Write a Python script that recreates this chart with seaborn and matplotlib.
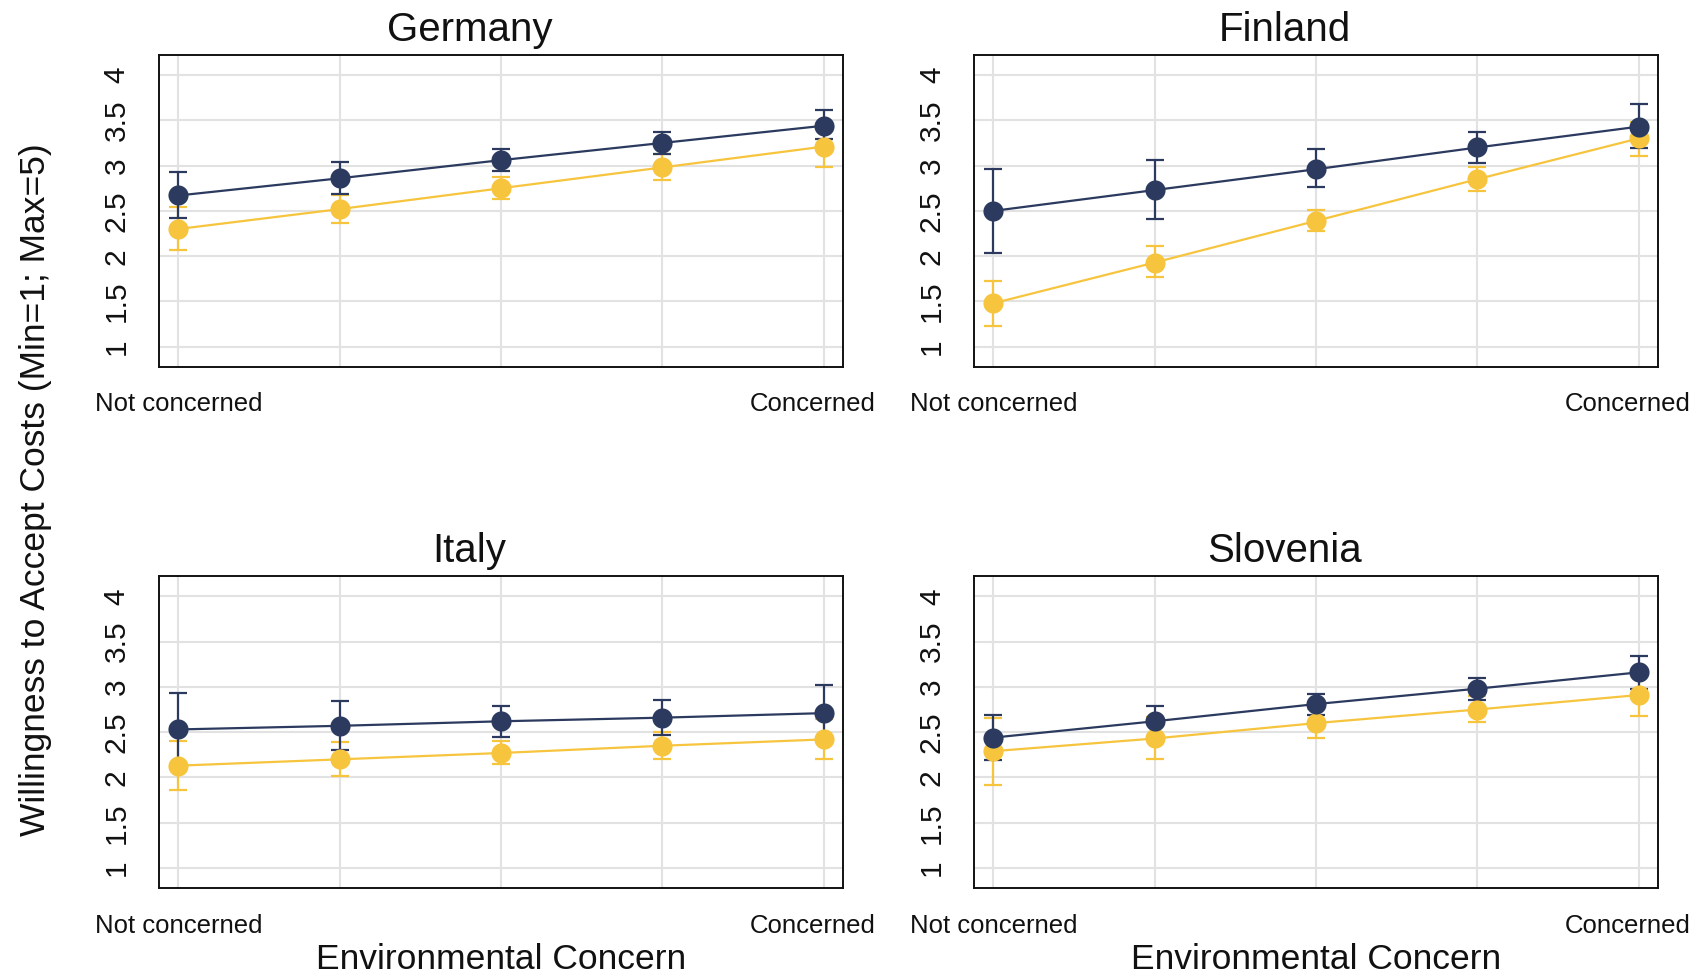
import numpy as np
import pandas as pd
import matplotlib
matplotlib.use("Agg")
import matplotlib.pyplot as plt
import seaborn as sns

# Environmental-concern levels (1 = not concerned ... 5 = concerned)
levels = [1, 2, 3, 4, 5]
level_labels = ["Not concerned", "", "", "", "Concerned"]
countries = ["Germany", "Finland", "Italy", "Slovenia"]

# Predicted willingness to accept costs, dark series
navy_mean = {
    "Germany":  [2.67, 2.86, 3.06, 3.25, 3.44],
    "Finland":  [2.50, 2.73, 2.96, 3.20, 3.43],
    "Italy":    [2.53, 2.57, 2.62, 2.66, 2.71],
    "Slovenia": [2.44, 2.62, 2.81, 2.98, 3.16],
}
navy_lo = {
    "Germany":  [2.42, 2.69, 2.94, 3.13, 3.29],
    "Finland":  [2.04, 2.41, 2.76, 3.03, 3.19],
    "Italy":    [2.13, 2.30, 2.45, 2.47, 2.40],
    "Slovenia": [2.19, 2.45, 2.69, 2.86, 2.98],
}
navy_hi = {
    "Germany":  [2.93, 3.04, 3.18, 3.37, 3.61],
    "Finland":  [2.96, 3.06, 3.18, 3.37, 3.68],
    "Italy":    [2.93, 2.84, 2.79, 2.86, 3.02],
    "Slovenia": [2.69, 2.79, 2.92, 3.10, 3.34],
}

# Predicted willingness to accept costs, light series
gold_mean = {
    "Germany":  [2.30, 2.52, 2.75, 2.98, 3.21],
    "Finland":  [1.48, 1.93, 2.39, 2.85, 3.30],
    "Italy":    [2.13, 2.20, 2.27, 2.35, 2.42],
    "Slovenia": [2.29, 2.43, 2.60, 2.75, 2.91],
}
gold_lo = {
    "Germany":  [2.07, 2.37, 2.63, 2.84, 2.99],
    "Finland":  [1.23, 1.77, 2.28, 2.72, 3.11],
    "Italy":    [1.86, 2.02, 2.15, 2.20, 2.20],
    "Slovenia": [1.92, 2.20, 2.44, 2.61, 2.68],
}
gold_hi = {
    "Germany":  [2.54, 2.67, 2.87, 3.13, 3.42],
    "Finland":  [1.73, 2.11, 2.51, 2.98, 3.48],
    "Italy":    [2.40, 2.39, 2.40, 2.50, 2.65],
    "Slovenia": [2.66, 2.67, 2.76, 2.90, 3.14],
}

y_ticks = [1, 1.5, 2, 2.5, 3, 3.5, 4]
y_ticklabels = ["1", "1.5", "2", "2.5", "3", "3.5", "4"]

NAVY = "#2b3a5e"
GOLD = "#f7c43e"

rows = []
for c in countries:
    for grp, m, lo, hi in (("gold", gold_mean, gold_lo, gold_hi),
                           ("navy", navy_mean, navy_lo, navy_hi)):
        for i, lv in enumerate(levels):
            rows.append(dict(country=c, group=grp, level=lv,
                             mean=m[c][i], lo=lo[c][i], hi=hi[c][i]))
df = pd.DataFrame(rows)

sns.set_style("white")
plt.rcParams["font.family"] = ["Liberation Sans", "DejaVu Sans"]

fig = plt.figure(figsize=(17.04, 9.80), dpi=100)

col_left = [0.0931, 0.5714]
col_width = 0.4018
row_bottom = [0.6258, 0.0939]
row_height = 0.3180

palette = {"gold": GOLD, "navy": NAVY}
tick_len, tick_pad, tick_fs = 9, 9.5, 18.5

for k, c in enumerate(countries):
    r, col = divmod(k, 2)
    ax = fig.add_axes([col_left[col], row_bottom[r], col_width, row_height])
    sub = df[df.country == c]

    ax.grid(True, color="#e2e2e2", linewidth=1.5, zorder=0)
    ax.set_axisbelow(True)

    for grp in ("gold", "navy"):
        g = sub[sub.group == grp]
        ax.errorbar(g["level"], g["mean"],
                    yerr=[g["mean"] - g["lo"], g["hi"] - g["mean"]],
                    fmt="none", ecolor=palette[grp], elinewidth=1.6,
                    capsize=6.5, capthick=1.6, zorder=2)
        sns.lineplot(data=g, x="level", y="mean", color=palette[grp],
                     marker="o", markersize=14.5, markeredgewidth=0,
                     linewidth=1.6, ax=ax, zorder=3, legend=False)

    ax.set_xlim(0.878, 5.122)
    ax.set_ylim(0.78, 4.22)
    ax.set_xticks(levels)
    # the right-hand end label sits slightly left of its tick, so it is
    # placed separately below the axis
    ax.set_xticklabels(level_labels[:-1] + [""], fontsize=tick_fs)
    ax.annotate(level_labels[-1], xy=(levels[-1], 0),
                xycoords=ax.get_xaxis_transform(),
                xytext=(-8, -(tick_len + tick_pad)),
                textcoords="offset points", ha="center", va="top",
                fontsize=tick_fs, color="#111111", annotation_clip=False)
    ax.set_yticks(y_ticks)
    ax.set_yticklabels(y_ticklabels, fontsize=21.5, rotation=90, va="center")
    ax.tick_params(axis="both", direction="out", length=tick_len, width=1.3,
                   color="#222222", labelcolor="#111111")
    ax.tick_params(axis="x", pad=tick_pad)
    ax.tick_params(axis="y", pad=11)
    for s in ax.spines.values():
        s.set_linewidth(1.4)
        s.set_color("#111111")
    ax.set_title(c, fontsize=29, pad=10, color="#111111", x=0.454)
    ax.set_ylabel("")
    if r == 1:
        ax.set_xlabel("Environmental Concern", fontsize=25.5,
                      labelpad=4, color="#111111")
    else:
        ax.set_xlabel("")

fig.text(0.021, 0.5, "Willingness to Accept Costs (Min=1; Max=5)",
         rotation=90, ha="center", va="center", fontsize=25.5,
         color="#111111")

fig.savefig("out.png", dpi=100)
